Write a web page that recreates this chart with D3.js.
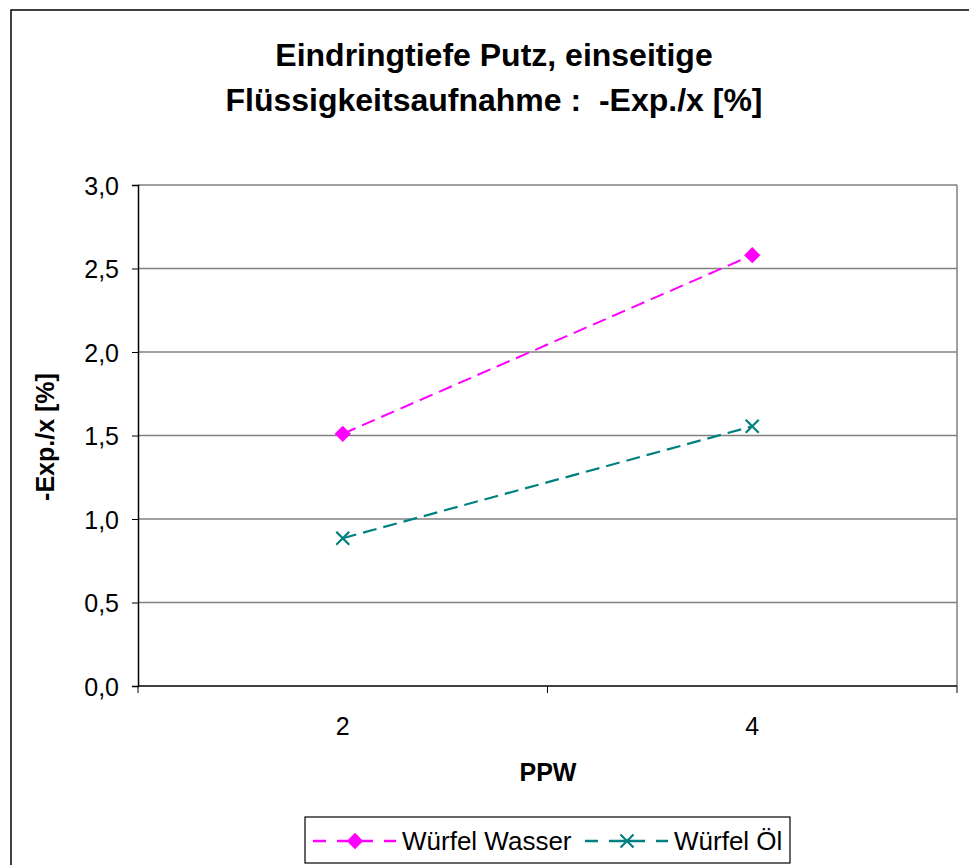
<!DOCTYPE html>
<meta charset="utf-8">
<style>
body { margin: 0; background: #fff; }
svg { display: block; font-family: "Liberation Sans", Arial, sans-serif; }
.grid line { stroke: #808080; stroke-width: 1.5px; }
.tick text { font-size: 25px; fill: #000; font-family: "Liberation Sans", Arial, sans-serif; }
</style>
<svg width="969" height="865"></svg>
<script src="https://d3js.org/d3.v7.min.js"></script>
<script>
var categories = ["2", "4"];
var wasser = [1.51, 2.58];
var oel = [0.885, 1.555];
var yTicks = [0, 0.5, 1.0, 1.5, 2.0, 2.5, 3.0];

var plot = {left: 138, right: 957, top: 185, bottom: 686};

var svg = d3.select("svg");

// outer chart frame
svg.append("rect")
    .attr("x", 11).attr("y", 10)
    .attr("width", 975).attr("height", 870)
    .attr("fill", "none")
    .attr("stroke", "#000")
    .attr("stroke-width", 1.5);

var x = d3.scaleBand().domain(categories).range([plot.left, plot.right]);
var y = d3.scaleLinear().domain([0, 3]).range([plot.bottom, plot.top]);
var fmt = function(d) { return d3.format(".1f")(d).replace(".", ","); };

// gridlines
svg.append("g").attr("class", "grid")
  .selectAll("line")
  .data(yTicks.slice(1))
  .enter().append("line")
    .attr("x1", plot.left).attr("x2", plot.right)
    .attr("y1", function(d) { return y(d); })
    .attr("y2", function(d) { return y(d); });

// right plot border
svg.append("line")
    .attr("x1", plot.right).attr("x2", plot.right)
    .attr("y1", plot.top).attr("y2", plot.bottom)
    .attr("stroke", "#808080").attr("stroke-width", 1.5);

// y axis
var yAxis = svg.append("g")
    .attr("transform", "translate(" + plot.left + ",0)")
    .call(d3.axisLeft(y).tickValues(yTicks).tickFormat(fmt).tickSize(6).tickPadding(13));
yAxis.select(".domain").attr("stroke", "#000").attr("stroke-width", 1.5);
yAxis.selectAll(".tick line").attr("stroke", "#000");
yAxis.selectAll(".tick text").attr("dy", "0.36em");

// x axis (ticks between categories)
var xAxisG = svg.append("g").attr("transform", "translate(0," + plot.bottom + ")");
xAxisG.append("line")
    .attr("x1", plot.left).attr("x2", plot.right)
    .attr("stroke", "#000").attr("stroke-width", 1.5);
var bounds = [plot.left, plot.left + x.bandwidth(), plot.right];
xAxisG.selectAll("line.tk")
  .data(bounds)
  .enter().append("line")
    .attr("class", "tk")
    .attr("x1", function(d) { return d; }).attr("x2", function(d) { return d; })
    .attr("y1", 0).attr("y2", 7)
    .attr("stroke", "#000");
xAxisG.selectAll("text")
  .data(categories)
  .enter().append("text")
    .attr("x", function(d) { return x(d) + x.bandwidth() / 2; })
    .attr("y", 49)
    .attr("text-anchor", "middle")
    .attr("font-size", 25)
    .text(function(d) { return d; });

// titles
var title = svg.append("text")
    .attr("text-anchor", "middle")
    .attr("font-size", 32)
    .attr("font-weight", "bold");
title.append("tspan").attr("x", 494).attr("y", 66).text("Eindringtiefe Putz, einseitige");
title.append("tspan").attr("x", 494).attr("y", 111).text("Flüssigkeitsaufnahme :  -Exp./x [%]").style("white-space", "pre");

svg.append("text")
    .attr("x", 548).attr("y", 781)
    .attr("text-anchor", "middle")
    .attr("font-size", 25)
    .attr("font-weight", "bold")
    .text("PPW");

svg.append("text")
    .attr("transform", "translate(54,437) rotate(-90)")
    .attr("text-anchor", "middle")
    .attr("font-size", 25)
    .attr("font-weight", "bold")
    .text("-Exp./x [%]");

// series
var cx = function(d, i) { return x(categories[i]) + x.bandwidth() / 2; };
var line = d3.line().x(cx).y(function(d) { return y(d); });

var diamond = d3.symbol().type(d3.symbolDiamond2).size(170);
var cross = "M-6.5,-6.5L6.5,6.5M-6.5,6.5L6.5,-6.5";

svg.append("path").datum(wasser)
    .attr("d", line)
    .attr("fill", "none")
    .attr("stroke", "#FF00FF")
    .attr("stroke-width", 2)
    .attr("stroke-dasharray", "14,7");
svg.selectAll("path.wm")
  .data(wasser)
  .enter().append("path")
    .attr("class", "wm")
    .attr("d", diamond)
    .attr("transform", function(d, i) { return "translate(" + cx(d, i) + "," + y(d) + ")"; })
    .attr("fill", "#FF00FF");

svg.append("path").datum(oel)
    .attr("d", line)
    .attr("fill", "none")
    .attr("stroke", "#008080")
    .attr("stroke-width", 2.2)
    .attr("stroke-dasharray", "14,7");
svg.selectAll("path.om")
  .data(oel)
  .enter().append("path")
    .attr("class", "om")
    .attr("d", cross)
    .attr("transform", function(d, i) { return "translate(" + cx(d, i) + "," + y(d) + ")"; })
    .attr("stroke", "#008080")
    .attr("stroke-width", 2.2)
    .attr("fill", "none");

// legend
var legend = svg.append("g");
legend.append("rect")
    .attr("x", 305).attr("y", 817)
    .attr("width", 485).attr("height", 46)
    .attr("fill", "#fff")
    .attr("stroke", "#000")
    .attr("stroke-width", 1.2);

var items = [
  {name: "Würfel Wasser", color: "#FF00FF", marker: "diamond", x0: 313},
  {name: "Würfel Öl", color: "#008080", marker: "x", x0: 585}
];
var segs = [[0, 13], [24, 60], [71, 83]];
items.forEach(function(it) {
  legend.selectAll(null)
    .data(segs)
    .enter().append("line")
      .attr("x1", function(s) { return it.x0 + s[0]; })
      .attr("x2", function(s) { return it.x0 + s[1]; })
      .attr("y1", 841).attr("y2", 841)
      .attr("stroke", it.color)
      .attr("stroke-width", 2.5);
  if (it.marker === "diamond") {
    legend.append("path")
        .attr("d", diamond)
        .attr("transform", "translate(" + (it.x0 + 42) + ",841)")
        .attr("fill", it.color);
  } else {
    legend.append("path")
        .attr("d", cross)
        .attr("transform", "translate(" + (it.x0 + 42) + ",841)")
        .attr("stroke", it.color)
        .attr("stroke-width", 2.2);
  }
  legend.append("text")
      .attr("x", it.x0 + 89).attr("y", 850)
      .attr("font-size", 26)
      .text(it.name);
});
</script>
